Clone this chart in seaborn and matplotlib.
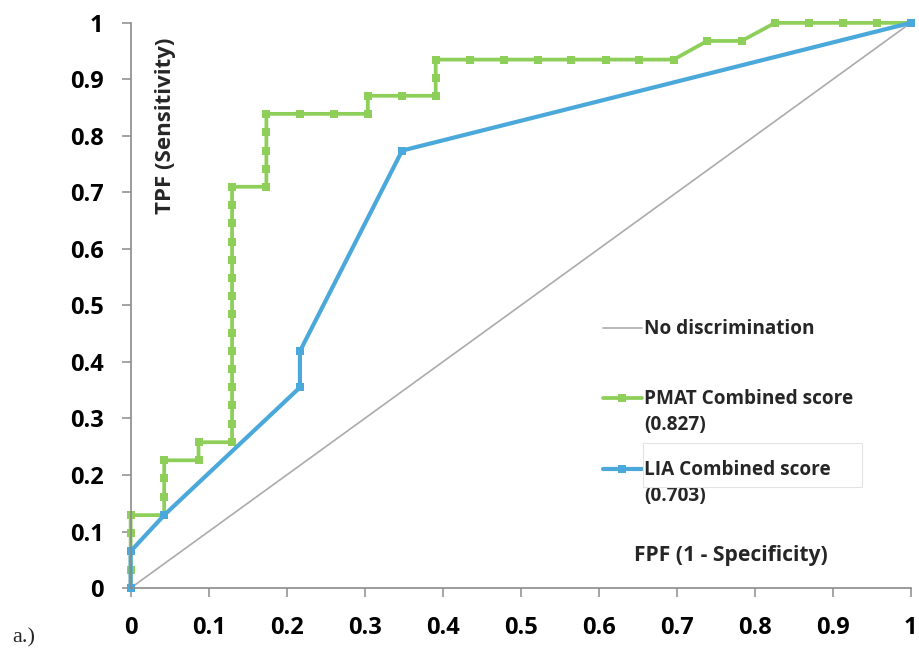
import matplotlib
matplotlib.use("Agg")
import matplotlib.pyplot as plt
from matplotlib.legend_handler import HandlerLine2D
from matplotlib.lines import Line2D
from matplotlib.patches import Rectangle
import seaborn as sns

# ---------------- data ----------------
ref_fpf = [0.0, 1.0]
ref_tpf = [0.0, 1.0]

pmat_fpf = [0.0, 0.0, 0.0, 0.0, 0.0,
            0.043, 0.043, 0.043, 0.043,
            0.087, 0.087,
            0.130, 0.130, 0.130, 0.130, 0.130, 0.130, 0.130, 0.130,
            0.130, 0.130, 0.130, 0.130, 0.130, 0.130, 0.130,
            0.174, 0.174, 0.174, 0.174, 0.174,
            0.217, 0.261, 0.304, 0.304,
            0.348, 0.391, 0.391, 0.391,
            0.435, 0.478, 0.522, 0.565, 0.609, 0.652, 0.696,
            0.739, 0.783, 0.826, 0.870, 0.913, 0.957, 1.0]
pmat_tpf = [0.0, 0.032, 0.065, 0.097, 0.129,
            0.129, 0.161, 0.194, 0.226,
            0.226, 0.258,
            0.258, 0.290, 0.323, 0.355, 0.387, 0.419, 0.452, 0.484,
            0.516, 0.548, 0.581, 0.613, 0.645, 0.677, 0.710,
            0.710, 0.742, 0.774, 0.806, 0.839,
            0.839, 0.839, 0.839, 0.871,
            0.871, 0.871, 0.903, 0.935,
            0.935, 0.935, 0.935, 0.935, 0.935, 0.935, 0.935,
            0.968, 0.968, 1.0, 1.0, 1.0, 1.0, 1.0]

lia_fpf = [0.0, 0.0, 0.043, 0.217, 0.217, 0.348, 1.0]
lia_tpf = [0.0, 0.065, 0.129, 0.355, 0.419, 0.774, 1.0]

tick_values = [0.0, 0.1, 0.2, 0.3, 0.4, 0.5, 0.6, 0.7, 0.8, 0.9, 1.0]
tick_labels = ["0", "0.1", "0.2", "0.3", "0.4", "0.5", "0.6", "0.7", "0.8", "0.9", "1"]

label_ref = "No discrimination"
label_pmat = "PMAT Combined score\n(0.827)"
label_lia = "LIA Combined score\n(0.703)"
x_title = "FPF (1 - Specificity)"
y_title = "TPF (Sensitivity)"
panel_tag = "a.)"

# ---------------- style ----------------
GREEN = "#8dcf58"
BLUE = "#4ba8da"
GREY = "#ababab"
SPINE = "#8a8a8a"

sns.set_style("ticks")
plt.rcParams["font.family"] = ["Open Sans", "DejaVu Sans"]

fig = plt.figure(figsize=(9.2, 6.53), dpi=100)
ax = fig.add_axes([0.142, 0.0995, 0.848, 0.8655])

sns.lineplot(x=ref_fpf, y=ref_tpf, ax=ax, color=GREY, lw=1.2,
             sort=False, estimator=None, clip_on=False)
sns.lineplot(x=pmat_fpf, y=pmat_tpf, ax=ax, color=GREEN, lw=2.7,
             marker="s", markersize=5.3, markeredgewidth=0,
             sort=False, estimator=None, clip_on=False)
sns.lineplot(x=lia_fpf, y=lia_tpf, ax=ax, color=BLUE, lw=3.0,
             marker="s", markersize=5.6, markeredgewidth=0,
             sort=False, estimator=None, clip_on=False)

ax.set_xlim(0, 1)
ax.set_ylim(0, 1)
ax.set_xticks(tick_values)
ax.set_yticks(tick_values)
ax.set_xticklabels(tick_labels, fontweight="bold")
ax.set_yticklabels(tick_labels, fontweight="bold")
ax.tick_params(axis="both", direction="out", length=6.5, width=1.1,
               color=SPINE, labelsize=17, labelcolor="black",
               bottom=True, left=True)
ax.tick_params(axis="x", pad=14)
ax.tick_params(axis="y", pad=13)

for side in ("top", "right"):
    ax.spines[side].set_visible(False)
for side in ("left", "bottom"):
    ax.spines[side].set_color(SPINE)
    ax.spines[side].set_linewidth(1.2)

ax.set_xlabel(x_title, fontsize=15.2, fontweight="bold", ha="center", va="center")
ax.xaxis.set_label_coords(0.77, 0.058)
ax.set_ylabel(y_title, fontsize=16, fontweight="bold", ha="center", va="center")
ax.yaxis.set_label_coords(0.045, 0.818)

# legend with handles aligned to the first text line of each entry
LINESP = 1.4


class FirstLineHandler(HandlerLine2D):
    def __init__(self, lift=0.0, **kw):
        super().__init__(**kw)
        self.lift = lift

    def create_artists(self, legend, orig_handle, xdescent, ydescent,
                       width, height, fontsize, trans):
        return super().create_artists(legend, orig_handle, xdescent,
                                      ydescent - 2 * self.lift * fontsize,
                                      width, height, fontsize, trans)


h_ref = Line2D([], [], color=GREY, lw=1.2)
h_pmat = Line2D([], [], color=GREEN, lw=2.7, marker="s", markersize=5.3, markeredgewidth=0)
h_lia = Line2D([], [], color=BLUE, lw=3.0, marker="s", markersize=5.6, markeredgewidth=0)
hm = FirstLineHandler(lift=0.78)
leg = ax.legend([h_ref, h_pmat, h_lia], [label_ref + "\n ", label_pmat, label_lia],
                loc="upper left", bbox_to_anchor=(0.6554, 0.5115),
                bbox_transform=fig.transFigure, frameon=False,
                borderpad=0, borderaxespad=0, handlelength=2.05,
                handletextpad=0.12, labelspacing=1.28, numpoints=1,
                prop=dict(weight="bold", size=13.7),
                handler_map={h_ref: hm, h_pmat: hm, h_lia: hm})
for t in leg.get_texts():
    t.set_linespacing(LINESP)

# faint text-box outline around the LIA entry, as in the reference
fig.patches.append(Rectangle((643 / 920, 1 - 487 / 653), 219 / 920, 44 / 653,
                             transform=fig.transFigure, fill=False,
                             edgecolor="#e3e3e3", lw=0.8))

fig.text(12 / 920, 1 - 638 / 653, panel_tag, family=["Liberation Serif", "DejaVu Serif"],
         fontsize=16, ha="left", va="center")

fig.savefig("out.png", dpi=100)
